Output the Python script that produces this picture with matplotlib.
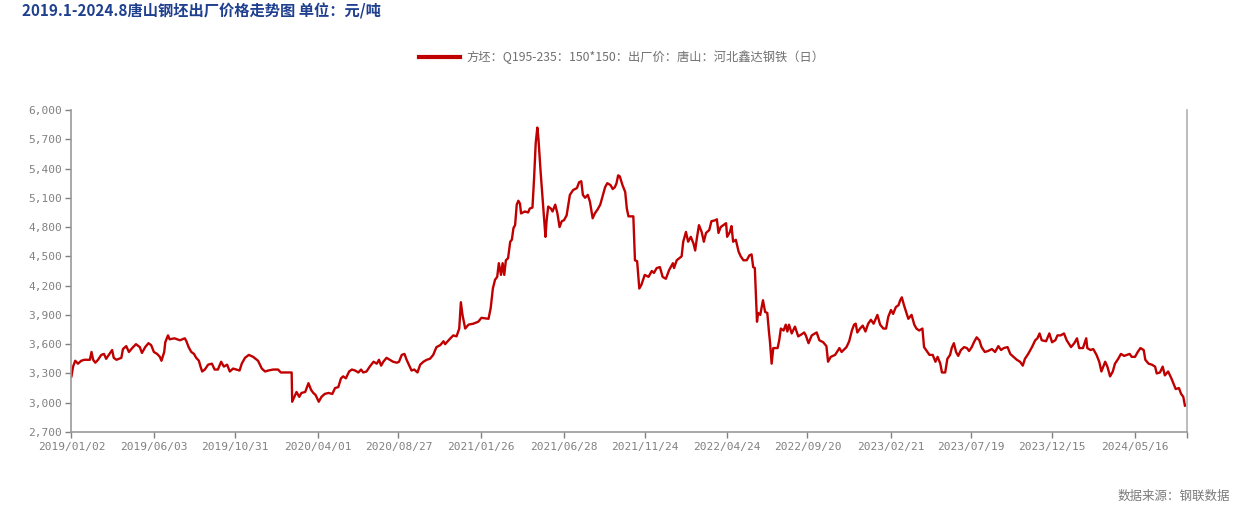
import pandas as pd
import matplotlib
matplotlib.use("Agg")
from matplotlib import pyplot as plt

plt.rcParams['font.family'] = ['Noto Sans CJK SC', 'DejaVu Sans']

start_date = "2019-01-02"
end_offset = 2056  # last day shown on the axis, in days after start_date

# days after start_date for each reading
day_offset = [
    0, 3, 7, 12, 18, 24, 34, 37, 40, 44,
    49, 55, 60, 64, 70, 75, 78, 83, 92, 95,
    101, 106, 112, 119, 126, 130, 136, 142, 147, 152,
    158, 163, 166, 171, 173, 178, 181, 190, 200, 209,
    212, 216, 221, 226, 230, 235, 238, 241, 246, 252,
    259, 264, 270, 276, 281, 287, 292, 298, 304, 310,
    314, 320, 327, 335, 344, 351, 357, 363, 372, 381,
    386, 406, 407, 411, 415, 420, 424, 431, 437, 442,
    446, 450, 456, 461, 467, 474, 481, 486, 492, 497,
    501, 506, 512, 517, 523, 529, 534, 538, 544, 550,
    557, 563, 567, 571, 575, 581, 587, 593, 600, 604,
    609, 614, 618, 622, 627, 632, 638, 643, 649, 655,
    661, 667, 673, 680, 686, 689, 697, 704, 710, 715,
    718, 721, 726, 732, 741, 750, 756, 769, 773, 777,
    781, 785, 788, 792, 795, 798, 801, 805, 809, 812,
    815, 818, 821, 824, 827, 829, 836, 842, 845, 850,
    853, 856, 859, 861, 865, 869, 871, 874, 876, 879,
    884, 887, 892, 896, 900, 904, 908, 913, 919, 925,
    932, 936, 940, 943, 947, 952, 956, 961, 965, 970,
    975, 980, 984, 988, 994, 998, 1002, 1005, 1008, 1011,
    1016, 1021, 1024, 1027, 1036, 1039, 1043, 1047, 1051, 1057,
    1064, 1070, 1074, 1079, 1085, 1090, 1096, 1102, 1109, 1111,
    1116, 1125, 1128, 1133, 1137, 1142, 1147, 1150, 1153, 1157,
    1162, 1166, 1170, 1176, 1180, 1187, 1190, 1193, 1197, 1202,
    1207, 1209, 1214, 1217, 1220, 1225, 1230, 1234, 1239, 1245,
    1250, 1254, 1257, 1260, 1264, 1266, 1270, 1275, 1279, 1283,
    1286, 1288, 1291, 1294, 1302, 1305, 1308, 1313, 1317, 1320,
    1323, 1328, 1334, 1340, 1346, 1351, 1354, 1359, 1365, 1374,
    1379, 1386, 1392, 1395, 1400, 1408, 1416, 1420, 1429, 1434,
    1439, 1443, 1446, 1449, 1454, 1459, 1464, 1469, 1474, 1479,
    1486, 1491, 1497, 1502, 1506, 1511, 1515, 1520, 1525, 1528,
    1531, 1535, 1539, 1543, 1549, 1554, 1558, 1563, 1569, 1572,
    1577, 1582, 1588, 1593, 1597, 1602, 1605, 1611, 1615, 1620,
    1623, 1627, 1631, 1635, 1640, 1646, 1651, 1655, 1660, 1664,
    1669, 1674, 1678, 1684, 1690, 1697, 1703, 1709, 1714, 1719,
    1726, 1731, 1737, 1743, 1749, 1754, 1758, 1764, 1771, 1777,
    1781, 1785, 1789, 1797, 1803, 1808, 1814, 1818, 1824, 1830,
    1835, 1843, 1849, 1854, 1858, 1865, 1871, 1873, 1879, 1884,
    1890, 1895, 1899, 1906, 1910, 1915, 1920, 1924, 1930, 1935,
    1941, 1946, 1951, 1955, 1961, 1966, 1971, 1977, 1980, 1986,
    1992, 1998, 2001, 2007, 2012, 2016, 2022, 2028, 2033, 2036,
    2042, 2046, 2050, 2053,
]

# 方坯 Q195-235 150*150 出厂价, 唐山 河北鑫达钢铁, 元/吨
price = [
    3270, 3370, 3430, 3400, 3430, 3440, 3440, 3520, 3440, 3410,
    3440, 3490, 3500, 3450, 3500, 3540, 3460, 3440, 3460, 3550,
    3580, 3520, 3560, 3600, 3570, 3510, 3570, 3610, 3590, 3520,
    3500, 3470, 3430, 3520, 3620, 3690, 3650, 3660, 3640, 3660,
    3630, 3570, 3520, 3500, 3460, 3430, 3370, 3320, 3340, 3390,
    3400, 3340, 3340, 3420, 3370, 3390, 3320, 3350, 3340, 3330,
    3400, 3460, 3490, 3470, 3430, 3350, 3320, 3330, 3340, 3340,
    3310, 3310, 3010, 3060, 3110, 3060, 3100, 3110, 3200, 3130,
    3100, 3080, 3010, 3060, 3090, 3100, 3090, 3150, 3160, 3250,
    3270, 3250, 3320, 3340, 3330, 3310, 3340, 3310, 3320, 3370,
    3420, 3400, 3440, 3380, 3420, 3460, 3440, 3420, 3410, 3420,
    3490, 3500, 3440, 3390, 3330, 3340, 3310, 3390, 3420, 3440,
    3450, 3490, 3570, 3590, 3630, 3600, 3650, 3690, 3680, 3760,
    4030, 3900, 3760, 3800, 3810, 3830, 3870, 3860, 3970, 4170,
    4260, 4290, 4430, 4310, 4430, 4310, 4460, 4480, 4650, 4670,
    4790, 4820, 5030, 5070, 5040, 4940, 4960, 4950, 4990, 5000,
    5300, 5660, 5820, 5710, 5370, 5060, 4920, 4700, 4860, 5010,
    4990, 4960, 5030, 4940, 4800, 4860, 4870, 4920, 5130, 5180,
    5200, 5260, 5270, 5130, 5100, 5130, 5060, 4890, 4940, 4980,
    5030, 5130, 5210, 5250, 5230, 5190, 5210, 5250, 5330, 5320,
    5230, 5160, 4990, 4910, 4910, 4460, 4450, 4170, 4210, 4310,
    4290, 4350, 4330, 4380, 4390, 4290, 4270, 4360, 4430, 4380,
    4460, 4500, 4650, 4750, 4650, 4700, 4630, 4560, 4680, 4820,
    4750, 4650, 4740, 4770, 4860, 4870, 4880, 4740, 4800, 4820,
    4840, 4700, 4750, 4810, 4650, 4670, 4550, 4500, 4460, 4460,
    4510, 4520, 4390, 4380, 3830, 3920, 3900, 4050, 3930, 3920,
    3730, 3620, 3400, 3560, 3560, 3640, 3760, 3740, 3800, 3730,
    3800, 3710, 3780, 3680, 3700, 3720, 3690, 3610, 3690, 3720,
    3640, 3620, 3580, 3420, 3470, 3490, 3560, 3520, 3570, 3630,
    3740, 3800, 3810, 3720, 3760, 3790, 3730, 3810, 3850, 3810,
    3900, 3800, 3760, 3760, 3880, 3950, 3910, 3980, 4000, 4050,
    4080, 4000, 3930, 3860, 3900, 3800, 3760, 3740, 3760, 3570,
    3530, 3490, 3490, 3420, 3470, 3400, 3310, 3310, 3450, 3490,
    3560, 3610, 3520, 3480, 3540, 3570, 3560, 3530, 3570, 3620,
    3670, 3640, 3570, 3520, 3530, 3550, 3520, 3580, 3540, 3560,
    3570, 3500, 3470, 3440, 3420, 3380, 3450, 3500, 3570, 3640,
    3660, 3710, 3640, 3630, 3710, 3620, 3640, 3690, 3690, 3710,
    3640, 3570, 3610, 3660, 3560, 3560, 3660, 3560, 3540, 3550,
    3490, 3420, 3320, 3420, 3370, 3270, 3320, 3400, 3450, 3500,
    3480, 3490, 3500, 3470, 3470, 3520, 3560, 3540, 3440, 3400,
    3390, 3370, 3300, 3310, 3370, 3280, 3320, 3250, 3180, 3140,
    3150, 3090, 3060, 2970,
]

tick_dates = ["2019/01/02", "2019/06/03", "2019/10/31", "2020/04/01", "2020/08/27",
              "2021/01/26", "2021/06/28", "2021/11/24", "2022/04/24", "2022/09/20",
              "2023/02/21", "2023/07/19", "2023/12/15", "2024/05/16"]
y_ticks = list(range(2700, 6001, 300))

series_name = "方坯：Q195-235：150*150：出厂价：唐山：河北鑫达钢铁（日）"
title = "2019.1-2024.8唐山钢坯出厂价格走势图 单位：元/吨"
source = "数据来源：钢联数据"

t0 = pd.Timestamp(start_date)
dates = t0 + pd.to_timedelta(day_offset, unit="D")
t_end = t0 + pd.Timedelta(days=end_offset)

fig = plt.figure(figsize=(12.49, 5.15), dpi=100)
ax = fig.add_axes([0.0572, 0.1612, 0.8928, 0.6252])

line, = ax.plot(dates, price, color="#C00000", lw=1.7, label=series_name)

ax.set_xlim(t0, t_end)
ax.set_ylim(2700, 6000)

tick_pos = list(pd.to_datetime(tick_dates, format="%Y/%m/%d")) + [t_end]
ax.set_xticks(tick_pos)
ax.set_xticklabels(tick_dates + [""])
ax.set_yticks(y_ticks)
ax.set_yticklabels([f"{v:,}" for v in y_ticks])

for lab in ax.get_xticklabels() + ax.get_yticklabels():
    lab.set_family("DejaVu Sans Mono")
    lab.set_fontsize(8)
    lab.set_color("#808080")

ax.tick_params(axis="both", direction="out", length=4, width=1, color="#808080", pad=3)

ax.spines["top"].set_visible(False)
for side in ["left", "bottom"]:
    ax.spines[side].set_color("#9a9a9a")
    ax.spines[side].set_linewidth(1.2)
ax.spines["right"].set_color("#b0b0b0")
ax.spines["right"].set_linewidth(1.2)

fig.legend(handles=[line], loc="center", bbox_to_anchor=(0.498, 0.889), frameon=False,
           handlelength=3.3, fontsize=8.8, labelcolor="#707070", handletextpad=0.6)
for lg in fig.legends:
    for h in lg.legend_handles:
        h.set_linewidth(3)

fig.text(0.0176, 0.977, title, ha="left", va="center", fontsize=11, fontweight="bold",
         color="#1F3F8F")
fig.text(0.985, 0.037, source, ha="right", va="center", fontsize=9, color="#7a7a7a")

fig.savefig("out.png", dpi=100)
